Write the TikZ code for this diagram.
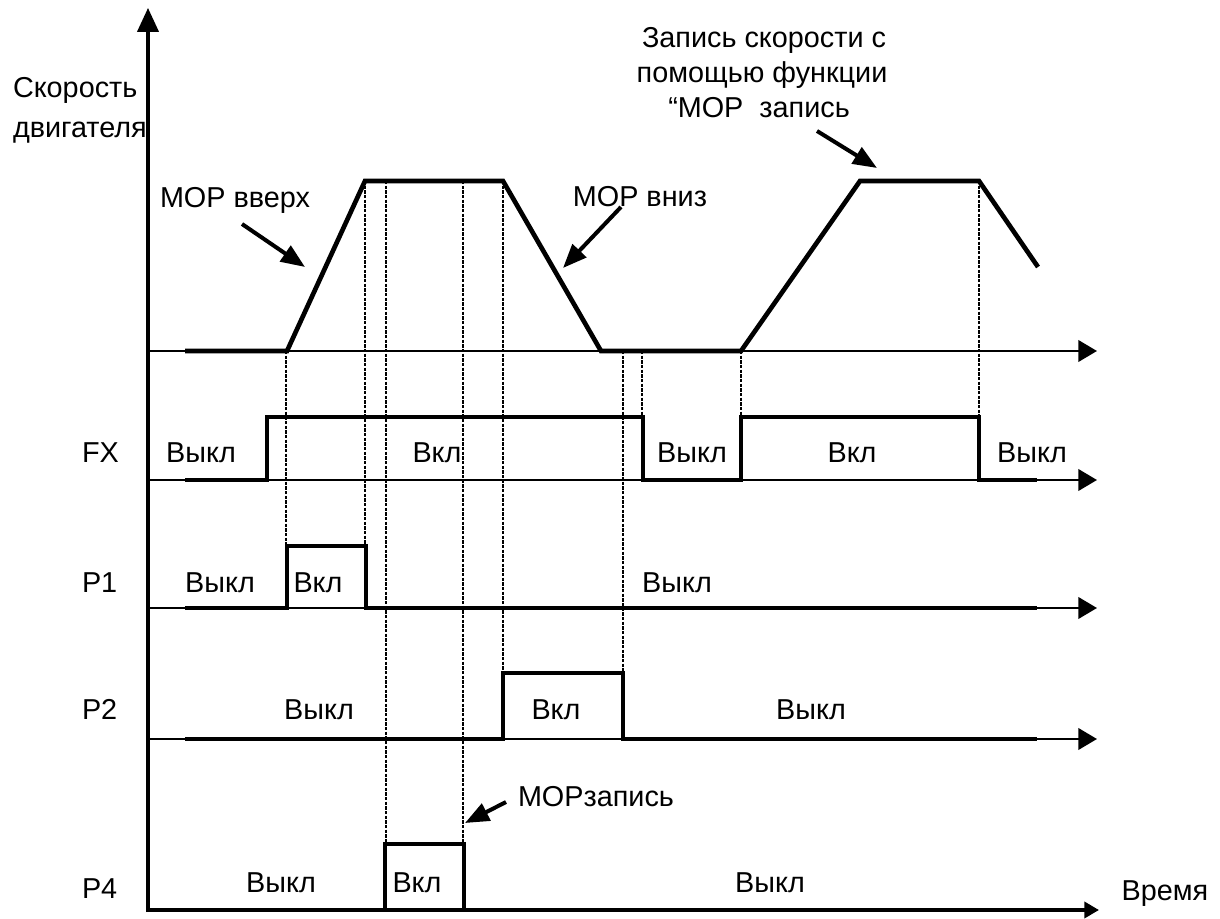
\documentclass[tikz,border=0pt]{standalone}
\usepackage{fontspec}
\setmainfont{Liberation Sans}
\usetikzlibrary{arrows.meta}
\begin{document}
\begin{tikzpicture}[x=0.75pt,y=-0.75pt,
  lbl/.style={inner sep=0pt,outer sep=0pt,font=\fontsize{21.6}{26}\selectfont},
  sig/.style={line width=3.5pt,line join=miter},
  axis/.style={line width=2.1pt,-{Triangle[length=14pt,width=16pt]}},
  guide/.style={line width=1.5pt,dash pattern=on 2.5pt off 1pt},
  note/.style={line width=3pt,-{Triangle[length=18pt,width=14pt]}}]
\useasboundingbox (0,0) rectangle (1220,919);
% vertical axis
\draw[line width=2.3pt,-{Triangle[length=18pt,width=16pt]}] (148,912) -- (148,8);
% horizontal axes
\draw[axis] (148,351) -- (1097,351);
\draw[axis] (148,480) -- (1097,480);
\draw[axis] (148,608) -- (1097,608);
\draw[axis] (148,739) -- (1097,739);
\draw[sig,-{Triangle[length=11pt,width=12pt]}] (148,910) -- (1099,910);
% guide lines
\draw[guide] (286,351) -- (286,546);
\draw[guide] (365,181) -- (365,546);
\draw[guide] (386,181) -- (386,844);
\draw[guide] (463,181) -- (463,844);
\draw[guide] (503,181) -- (503,673);
\draw[guide] (623,351) -- (623,673);
\draw[guide] (642,351) -- (642,417);
\draw[guide] (741,351) -- (741,417);
\draw[guide] (979,181) -- (979,417);
% speed curve
\draw[sig] (185,351) -- (287,351) -- (365,181) -- (503,181) -- (601,351) -- (741,351) -- (860,181) -- (979,181) -- (1038,267);
% FX
\draw[sig] (185,480) -- (267,480) -- (267,417) -- (643,417) -- (643,480) -- (741,480) -- (741,417) -- (979,417) -- (979,480) -- (1037,480);
% P1
\draw[sig] (185,608) -- (287,608) -- (287,546) -- (366,546) -- (366,608) -- (1037,608);
% P2
\draw[sig] (185,739) -- (503,739) -- (503,673) -- (623,673) -- (623,739) -- (1037,739);
% P4
\draw[sig] (385,910) -- (385,844) -- (464,844) -- (464,910);
% axis labels
\node[lbl,anchor=base west] (ys1) at (13,98) {Скорость};
\node[lbl,anchor=base west] (ys2) at (13,138) {двигателя};
\node[lbl,anchor=base] (xt) at (1165,900) {Время};
\node[lbl,anchor=base west] (lfx) at (82,462) {FX};
\node[lbl,anchor=base west] (lp1) at (82,592) {P1};
\node[lbl,anchor=base west] (lp2) at (82,719) {P2};
\node[lbl,anchor=base west] (lp4) at (82,898) {P4};
% state labels
\node[lbl,anchor=base] (fx1) at (201,462) {Выкл};
\node[lbl,anchor=base] (fx2) at (437,462) {Вкл};
\node[lbl,anchor=base] (fx3) at (692,462) {Выкл};
\node[lbl,anchor=base] (fx4) at (852,462) {Вкл};
\node[lbl,anchor=base] (fx5) at (1032,462) {Выкл};
\node[lbl,anchor=base] (p11) at (220,592) {Выкл};
\node[lbl,anchor=base] (p12) at (318,592) {Вкл};
\node[lbl,anchor=base] (p13) at (677,592) {Выкл};
\node[lbl,anchor=base] (p21) at (319,719) {Выкл};
\node[lbl,anchor=base] (p22) at (556,719) {Вкл};
\node[lbl,anchor=base] (p23) at (811,719) {Выкл};
\node[lbl,anchor=base] (p41) at (281,892) {Выкл};
\node[lbl,anchor=base] (p42) at (417,892) {Вкл};
\node[lbl,anchor=base] (p43) at (770,892) {Выкл};
% annotations
\node[lbl,anchor=base west] (up) at (160,208) {MOP вверх};
\node[lbl,anchor=base east] (down) at (707,207) {MOP вниз};
\node[lbl,anchor=base] (r1) at (764,48) {Запись скорости с};
\node[lbl,anchor=base] (r2) at (762,83) {помощью функции};
\node[lbl,anchor=base] (r3) at (759,118) {“MOP\ \ запись};
\node[lbl,anchor=base west] (mz) at (518,806) {MOPзапись};
\coordinate (a1s) at (242,224); \coordinate (a1e) at (305,267);
\coordinate (a2s) at (621,207); \coordinate (a2e) at (563,268);
\coordinate (a3s) at (817,131); \coordinate (a3e) at (877,168);
\coordinate (a4s) at (506,802); \coordinate (a4e) at (465,823);
\draw[note] (a1s) -- (a1e);
\draw[note] (a2s) -- (a2e);
\draw[note] (a3s) -- (a3e);
\draw[note] (a4s) -- (a4e);
\end{tikzpicture}
\end{document}
